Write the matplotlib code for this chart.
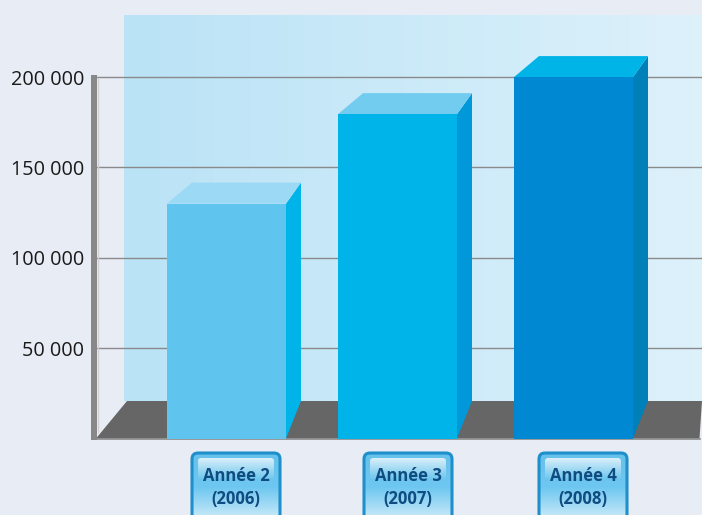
import matplotlib
matplotlib.use('Agg')
import matplotlib.pyplot as plt
import numpy as np
from matplotlib.patches import FancyBboxPatch, Polygon

W, H = 702, 515
plt.rcParams['font.family'] = ['Open Sans', 'DejaVu Sans']

# donnees
annees = ['Année 2\n(2006)', 'Année 3\n(2007)', 'Année 4\n(2008)']
valeurs = [130000, 179500, 200000]
graduations = [50000, 100000, 150000, 200000]
graduation_labels = ['50 000', '100 000', '150 000', '200 000']

# mise en page, en pixels
bar_x = [167, 338, 514]
bar_w = 119
badge_x = [191, 363, 538]
badge_w = 90
face = ['#5FC5EE', '#00B3E8', '#0089D2']
side = ['#00B3E8', '#0098D8', '#0080B8']
top = ['#9BD9F5', '#71CCF0', '#00B4E8']
bg = '#E8ECF5'
y0_px = 438.5
px_per_unit = 90.35 / 50000


def val(px):
    # hauteur en pixels -> unites de l'axe
    return px / px_per_unit


fig = plt.figure(figsize=(W / 100, H / 100), dpi=100, facecolor=bg)
ax = fig.add_axes([97 / W, (H - y0_px) / H, (W - 97) / W, (y0_px - 15) / H])
ax.set_facecolor('none')

# mur du fond
grad = np.linspace(0, 1, 64).reshape(1, -1, 1)
c1 = np.array([0xBA, 0xE3, 0xF6]) / 255
c2 = np.array([0xDD, 0xF1, 0xFB]) / 255
ax.imshow(c1 + (c2 - c1) * grad, extent=(124, W, val(y0_px - 401), val(y0_px - 15)),
          aspect='auto', zorder=1)
ax.set_xlim(97, W)
ax.set_ylim(0, val(y0_px - 15))

# sol
ax.add_patch(Polygon([(96, 0), (127, val(37.5)), (W, val(37.5)), (699.5, 0)],
                     facecolor='#666666', edgecolor='none', zorder=2, clip_on=False))

for g in graduations:
    ax.axhline(g, color='#8A8A8A', lw=1.0, zorder=3)
ax.plot([97, 699.5], [0, 0], color='#8A8A8A', lw=1.2, zorder=3, clip_on=False)

# barres avec faces 3D
dy = val(21)
for x, v, f, s, t in zip(bar_x, valeurs, face, side, top):
    ax.bar(x + bar_w / 2, v, bar_w, color=f, zorder=5)
    ax.add_patch(Polygon([(x + bar_w, 0), (x + bar_w + 15, val(37.5)),
                          (x + bar_w + 15, v + dy), (x + bar_w, v)],
                         facecolor=s, edgecolor='none', zorder=4))
    ax.add_patch(Polygon([(x, v), (x + 25, v + dy), (x + bar_w + 15, v + dy), (x + bar_w, v)],
                         facecolor=t, edgecolor='none', zorder=4))

ax.set_xticks([])
ax.set_yticks(graduations)
ax.set_yticklabels(graduation_labels, fontsize=14.3, color='#1A1A1A')
ax.tick_params(axis='y', length=0, pad=9)
for sp in ax.spines.values():
    sp.set_visible(False)

# axe vertical epais
deco = fig.add_axes([0, 0, 1, 1], facecolor='none')
deco.axis('off')
deco.fill_between([91, 97], 75, 439.5, color='#888888', lw=0)
deco.plot([97.5, 97.5], [78, 432], color='#CFCFD4', lw=1)

# etiquettes des annees
stops = np.array([[0.40, 0.76, 0.92], [0.43, 0.78, 0.94], [0.75, 0.90, 0.97]])
for x, txt in zip(badge_x, annees):
    box = FancyBboxPatch((x + 1, 453), badge_w - 2, 80, boxstyle='round,pad=0,rounding_size=6',
                         facecolor='none', edgecolor='#1E8FCB', lw=2.2, zorder=4)
    deco.add_patch(box)
    t = np.linspace(0, 1, 64)
    rgb = np.stack([np.interp(t, [0, 0.55, 1], stops[:, i]) for i in range(3)], axis=1)
    im = deco.imshow(rgb.reshape(-1, 1, 3), extent=(x + 1, x + badge_w - 1, H, 453),
                     aspect='auto', zorder=2)
    im.set_clip_path(box)
    # reflet du haut
    hi = FancyBboxPatch((x + 7, 458), badge_w - 14, 22, boxstyle='round,pad=0,rounding_size=3',
                        facecolor='none', edgecolor='none', zorder=3)
    deco.add_patch(hi)
    alpha = np.linspace(0.75, 0, 32).reshape(-1, 1)
    layer = np.dstack([np.ones((32, 1, 3)), alpha])
    gl = deco.imshow(layer, extent=(x + 7, x + badge_w - 7, 480, 458), aspect='auto', zorder=3)
    gl.set_clip_path(hi)
    lignes = txt.split('\n')
    deco.text(x + badge_w / 2, 476, lignes[0], ha='center', va='center', fontsize=12,
              fontweight='bold', color='#0F4C81', zorder=6)
    deco.text(x + badge_w / 2, 499, lignes[1], ha='center', va='center', fontsize=12,
              fontweight='bold', color='#0F4C81', zorder=6)
deco.set_xlim(0, W)
deco.set_ylim(H, 0)

fig.savefig('out.png', dpi=100, facecolor=bg)
